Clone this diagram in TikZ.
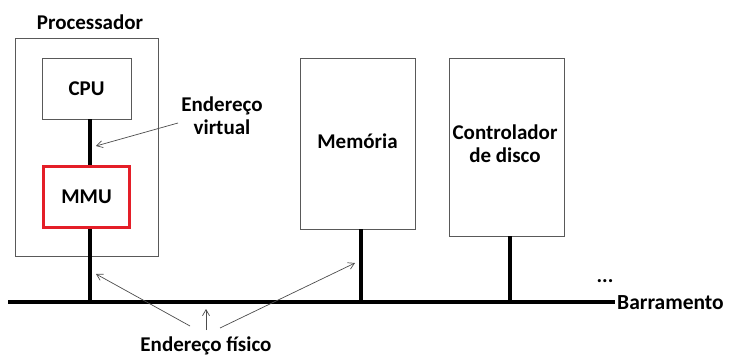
\documentclass[tikz,border=0pt]{standalone}
\usepackage{fontspec}
\setmainfont{Carlito}
\usetikzlibrary{arrows.meta}
\definecolor{mmured}{RGB}{228,30,40}
\begin{document}
\begin{tikzpicture}[x=1pt,y=-1pt,
  lbl/.style={font=\bfseries\fontsize{21}{23}\selectfont, inner sep=0pt, align=center},
  gbox/.style={draw=black!65, line width=0.9pt, inner sep=0pt},
  rbox/.style={draw=mmured, line width=3.6pt, inner sep=0pt},
  bus/.style={line width=3.6pt},
  ptr/.style={draw=black!70, line width=0.7pt, -{Straight Barb[length=6pt,width=7pt]}}
]
\useasboundingbox (0,0) rectangle (730,358);
% boxes
\node[gbox, minimum width=143pt, minimum height=218pt] (proc) at (86.5,147) {};
\node[lbl] (proct) at (90,22) {Processador};
\node[gbox, minimum width=89pt, minimum height=61pt, lbl] (cpu) at (86.5,88.5) {CPU};
\node[rbox, minimum width=86pt, minimum height=61pt, lbl] (mmu) at (86.5,197) {MMU};
\node[gbox, minimum width=115pt, minimum height=171pt] (mem) at (357.5,143.5) {};
\node[lbl] (memt) at (357.5,141) {Memória};
\node[gbox, minimum width=115pt, minimum height=178pt] (ctl) at (506.5,147) {};
\node[lbl] (ctlt) at (505,144) {Controlador\\de disco};
% bus
\coordinate (busL) at (8,302);
\coordinate (busR) at (615,302);
\draw[bus] (busL) -- (busR);
\node[lbl, anchor=west, font=\bfseries\fontsize{21.5}{23}\selectfont] (barr) at (617,303) {Barramento};
\node[lbl] (dots) at (605,281) {...};
% connections
\coordinate (mmubus) at (90,302);
\coordinate (membus) at (361,302);
\coordinate (ctlbus) at (510,302);
\draw[bus] (cpu.south -| mmubus) -- (mmu.north -| mmubus);
\draw[bus] (mmu.south -| mmubus) -- (mmubus);
\draw[bus] (mem.south -| membus) -- (membus);
\draw[bus] (ctl.south -| ctlbus) -- (ctlbus);
% labels
\node[lbl] (ev) at (222,116) {Endereço\\virtual};
\node[lbl] (ef) at (206,346) {Endereço físico};
\coordinate (a1) at (178,123);
\coordinate (a1e) at (96,146);
\draw[ptr] (a1) -- (a1e);
\coordinate (b1) at (190,326);
\coordinate (b1e) at (96,274);
\draw[ptr] (b1) -- (b1e);
\coordinate (b2) at (206,330);
\coordinate (b2e) at (206,309);
\draw[ptr] (b2) -- (b2e);
\coordinate (b3) at (220,328);
\coordinate (b3e) at (355,263);
\draw[ptr] (b3) -- (b3e);
\end{tikzpicture}
\end{document}
